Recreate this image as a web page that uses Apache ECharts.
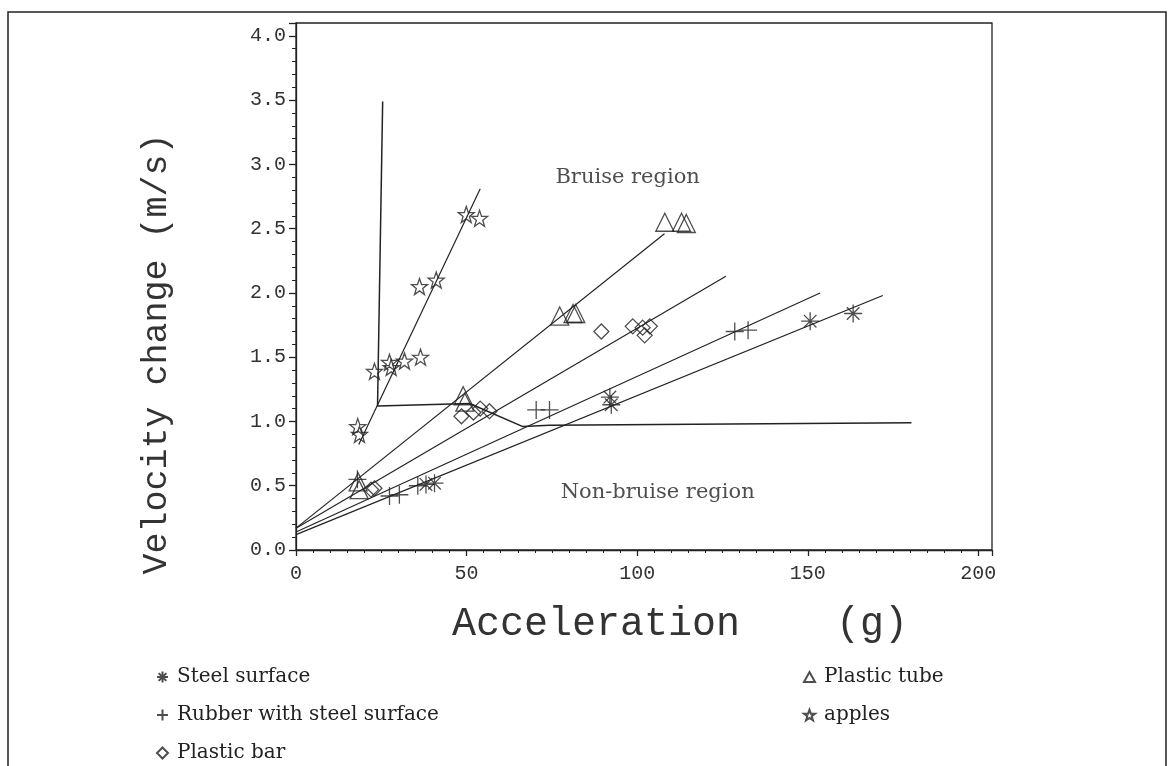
<!DOCTYPE html>
<html><head><meta charset="utf-8">
<script src="https://cdn.jsdelivr.net/npm/echarts@6/dist/echarts.min.js"></script>
<style>html,body{margin:0;padding:0;background:#fff}#c{width:1174px;height:766px}</style>
</head><body><div id="c"></div>
<script>
// ---- data ----
const steelX  = [38.1, 40.6, 92.0, 92.4, 150.7, 163.3];
const steelY  = [0.51, 0.52, 1.19, 1.13, 1.78, 1.84];
const rubberX = [18.0, 27.4, 30.3, 35.7, 70.4, 74.3, 128.6, 132.5];
const rubberY = [0.55, 0.42, 0.43, 0.50, 1.09, 1.09, 1.70, 1.71];
const barX    = [22.0, 23.0, 48.5, 52.0, 54.0, 56.7, 89.5, 98.7, 101.6, 102.2, 103.7];
const barY    = [0.47, 0.48, 1.04, 1.07, 1.10, 1.08, 1.70, 1.74, 1.73, 1.67, 1.74];
const tubeX   = [18.2, 18.5, 49.0, 49.5, 77.3, 81.2, 82.0, 108.1, 113.0, 114.4];
const tubeY   = [0.53, 0.47, 1.20, 1.15, 1.82, 1.84, 1.84, 2.55, 2.55, 2.54];
const appleX  = [18.1, 18.6, 23.0, 27.4, 27.9, 31.8, 36.5, 36.2, 41.1, 49.9, 53.8];
const appleY  = [0.96, 0.90, 1.39, 1.46, 1.42, 1.47, 1.50, 2.05, 2.10, 2.61, 2.58];

// fitted lines (end points)
const steelFitX  = [0, 172.0];   const steelFitY  = [0.12, 1.98];
const rubberFitX = [0, 153.6];   const rubberFitY = [0.14, 2.00];
const barFitX    = [0, 126.0];   const barFitY    = [0.17, 2.13];
const tubeFitX   = [0, 108.0];   const tubeFitY   = [0.17, 2.46];
const appleFitX  = [18.4, 54.0]; const appleFitY  = [0.82, 2.81];
// bruise / non-bruise boundary
const boundX = [25.4, 23.9, 50.9, 66.5, 74.3, 180.4];
const boundY = [3.49, 1.12, 1.14, 0.96, 0.97, 0.99];

const seriesNames = ['Steel surface', 'Rubber with steel surface', 'Plastic bar', 'Plastic tube', 'apples'];
const regionLabels = ['Bruise region', 'Non-bruise region'];
const regionX = [97.2, 106.0];
const regionY = [2.90, 0.45];
const xTitle = 'Acceleration    (g)';
const yTitle = 'Velocity change (m/s)';

const pair = (xs, ys) => xs.map((x, i) => [x, ys[i]]);

const INK = '#222';
const SYM = {
  star: 'path://M0,-10 L2.4,-3.2 L9.5,-3.1 L3.8,1.2 L5.9,8.1 L0,4 L-5.9,8.1 L-3.8,1.2 L-9.5,-3.1 L-2.4,-3.2 Z',
  plus: 'path://M-10,0 L10,0 M0,-10 L0,10',
  aster: 'path://M-10,0 L10,0 M0,-10 L0,10 M-7,-7 L7,7 M-7,7 L7,-7',
  tri: 'path://M0,-10 L10,8 L-10,8 Z',
  dia: 'path://M0,-10 L10,0 L0,10 L-10,0 Z'
};
const hollow = {color: 'rgba(0,0,0,0)', borderColor: INK, borderWidth: 1.3};

function scat(name, xs, ys, sym, size) {
  return {name, type: 'scatter', data: pair(xs, ys), symbol: sym, symbolSize: size,
          itemStyle: hollow, z: 5};
}
function fit(xs, ys, w) {
  return {type: 'line', data: pair(xs, ys), symbol: 'none', silent: true,
          lineStyle: {color: INK, width: w || 1.2}, z: 3};
}

const monoFont = "'Liberation Mono', 'DejaVu Sans Mono', monospace";
const serifFont = "'DejaVu Serif', 'Liberation Serif', serif";
const legendText = {fontFamily: serifFont, fontSize: 20, color: INK, padding: [0, 0, 0, 4]};

const option = {
  animation: false,
  backgroundColor: '#fff',
  grid: {left: 296, right: 182, top: 23, bottom: 216, show: true, borderColor: INK, borderWidth: 1.3},
  xAxis: {
    type: 'value', min: 0, max: 204, interval: 50,
    axisLine: {show: true, lineStyle: {color: INK, width: 1.3}},
    axisTick: {show: true, length: 6, lineStyle: {color: INK, width: 1.3}},
    minorTick: {show: true, splitNumber: 10, length: 3, lineStyle: {color: INK, width: 1}},
    splitLine: {show: false},
    axisLabel: {fontFamily: monoFont, fontSize: 20, color: '#333', margin: 14,
      formatter: v => (v % 50 === 0 ? String(v) : '')}
  },
  yAxis: {
    type: 'value', min: 0, max: 4.1, interval: 0.5,
    axisLine: {show: true, lineStyle: {color: INK, width: 1.3}},
    axisTick: {show: true, length: 7, lineStyle: {color: INK, width: 1.3}},
    minorTick: {show: true, splitNumber: 5, length: 4, lineStyle: {color: INK, width: 1}},
    splitLine: {show: false},
    axisLabel: {fontFamily: monoFont, fontSize: 20, color: '#333', margin: 10,
      formatter: v => (Math.abs(v * 2 - Math.round(v * 2)) < 1e-6 ? v.toFixed(1) : '')}
  },
  legend: [
    {data: seriesNames.slice(0, 3), orient: 'vertical', left: 156, top: 667, height: 120, itemGap: 18,
     itemWidth: 11, itemHeight: 11, padding: 0, textStyle: legendText, selectedMode: false},
    {data: seriesNames.slice(3), orient: 'vertical', left: 803, top: 667, height: 120, itemGap: 18,
     itemWidth: 11, itemHeight: 11, padding: 0, textStyle: legendText, selectedMode: false}
  ],
  series: [
    fit(steelFitX, steelFitY), fit(rubberFitX, rubberFitY), fit(barFitX, barFitY),
    fit(tubeFitX, tubeFitY), fit(appleFitX, appleFitY), fit(boundX, boundY, 1.5),
    scat(seriesNames[0], steelX, steelY, SYM.aster, 18),
    scat(seriesNames[1], rubberX, rubberY, SYM.plus, 18),
    scat(seriesNames[2], barX, barY, SYM.dia, 15),
    scat(seriesNames[3], tubeX, tubeY, SYM.tri, 18),
    scat(seriesNames[4], appleX, appleY, SYM.star, 16),
    {type: 'scatter', silent: true, symbolSize: 0, z: 6,
     data: regionLabels.map((t, i) => ({value: [regionX[i], regionY[i]], name: t})),
     label: {show: true, position: 'inside', formatter: p => p.name,
             fontFamily: serifFont, fontSize: 21, color: INK}}
  ],
  graphic: [
    {type: 'rect', shape: {x: 8, y: 12, width: 1158, height: 800}, silent: true,
     style: {fill: 'none', stroke: INK, lineWidth: 1.5}},
    {type: 'text', left: 452, top: 604, silent: true,
     style: {text: xTitle, font: "40px " + monoFont, fill: '#333'}},
    {type: 'text', x: 157, y: 354, rotation: Math.PI / 2, silent: true,
     style: {text: yTitle, font: "35px " + monoFont, fill: '#333', align: 'center', verticalAlign: 'middle'}}
  ]
};
const chart = echarts.init(document.getElementById('c'), null, {renderer: 'canvas'});
chart.setOption(option);
</script></body></html>
